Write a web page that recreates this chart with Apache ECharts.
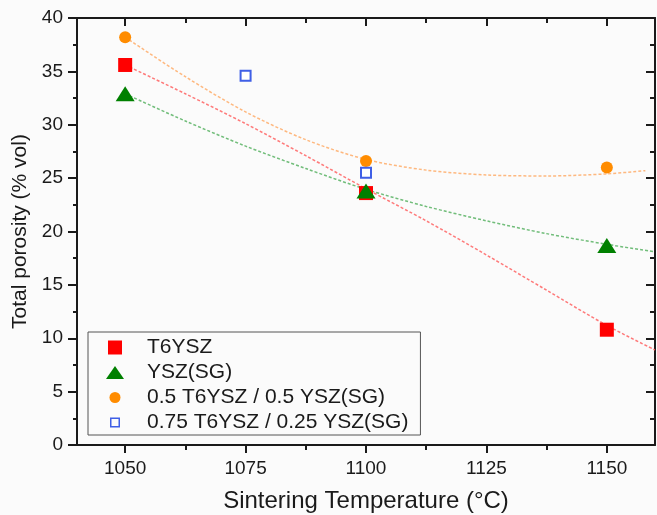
<!DOCTYPE html>
<html>
<head>
<meta charset="utf-8">
<script src="https://cdn.jsdelivr.net/npm/echarts@6/dist/echarts.min.js"></script>
<style>
html,body{margin:0;padding:0;background:#fbfbfb;}
#chart{width:657px;height:515px;}
</style>
</head>
<body>
<div id="chart"></div>
<script>
// ---- data ----
const xTickValues = [1050, 1075, 1100, 1125, 1150];
const xMinorTickValues = [1062.5, 1087.5, 1112.5, 1137.5];

const seriesNames = ['T6YSZ', 'YSZ(SG)', '0.5 T6YSZ / 0.5 YSZ(SG)', '0.75 T6YSZ / 0.25 YSZ(SG)'];

const t6yszX = [1050, 1100, 1150];
const t6yszY = [35.6, 23.6, 10.8];

const yszX = [1050, 1100, 1150];
const yszY = [32.9, 23.8, 18.7];

const mix50X = [1050, 1100, 1150];
const mix50Y = [38.2, 26.6, 26.0];

const mix75X = [1075, 1100];
const mix75Y = [34.6, 25.5];

// dotted trend lines
const fitX = [1050, 1062.5, 1075, 1087.5, 1100, 1112.5, 1125, 1137.5, 1150, 1160];
const t6yszFit = [35.6, 32.9, 30.1, 27.1, 24.0, 21.0, 17.8, 14.5, 11.2, 8.9];
const yszFit = [32.9, 30.35, 28.0, 25.9, 23.95, 22.35, 21.0, 19.8, 18.8, 18.1];
const mix50FitX = [1050, 1062.5, 1075, 1087.5, 1100, 1112.5, 1125, 1137.5, 1150, 1158];
const mix50Fit = [38.2, 34.5, 31.2, 28.6, 26.75, 25.75, 25.3, 25.2, 25.4, 25.7];

// ---- build ----
const zip = (xs, ys) => xs.map((x, i) => [x, ys[i]]);
const FONT = '"Liberation Sans", Arial, sans-serif';
const AX = '#1a1a1a';

// legend icons drawn inside a 54x14 box (corner points fix the box)
const BOX = 'M0 0 L0 0 M54 14 L54 14 ';
const legendIcons = [
  'path://' + BOX + 'M20 0 L34 0 L34 14 L20 14 Z',
  'path://' + BOX + 'M27 0.5 L36 13.5 L18 13.5 Z',
  'path://' + BOX + 'M21.5 7 A5.5 5.5 0 1 0 32.5 7 A5.5 5.5 0 1 0 21.5 7 Z',
  'path://' + BOX + 'M22 2 L32 2 L32 12 L22 12 Z M23.5 3.5 L23.5 10.5 L30.5 10.5 L30.5 3.5 Z'
];

const chart = echarts.init(document.getElementById('chart'), null, {renderer: 'canvas'});

const gridBox = {left: 77, right: 2, top: 18, bottom: 70, containLabel: false, outerBoundsMode: 'none'};
const baseX = {
  type: 'value', min: 1040, max: 1160,
  splitLine: {show: false},
  axisLine: {onZero: false, lineStyle: {color: AX, width: 2}},
};
const tickStyle = {color: AX, width: 2};

const option = {
  backgroundColor: '#fbfbfb',
  animation: false,
  textStyle: {fontFamily: FONT},
  grid: [Object.assign({}, gridBox), Object.assign({}, gridBox)],
  xAxis: [
    Object.assign({}, baseX, {
      gridIndex: 0, position: 'bottom',
      axisTick: {show: true, inside: false, length: 8, customValues: xTickValues, lineStyle: tickStyle},
      axisLabel: {show: true, customValues: xTickValues, fontSize: 19, color: AX, margin: 14, fontFamily: FONT,
                  formatter: v => String(v)},
      name: 'Sintering Temperature (°C)', nameLocation: 'middle', nameGap: 44,
      nameTextStyle: {fontSize: 24, color: AX, fontFamily: FONT}
    }),
    Object.assign({}, baseX, {
      gridIndex: 0, position: 'top',
      axisTick: {show: true, inside: true, length: 8, customValues: xTickValues, lineStyle: tickStyle},
      axisLabel: {show: false}
    }),
    Object.assign({}, baseX, {
      gridIndex: 1, position: 'bottom',
      axisLine: {show: false, onZero: false},
      axisTick: {show: true, inside: false, length: 5, customValues: xMinorTickValues, lineStyle: tickStyle},
      axisLabel: {show: false}
    }),
    Object.assign({}, baseX, {
      gridIndex: 1, position: 'top',
      axisLine: {show: false, onZero: false},
      axisTick: {show: true, inside: true, length: 5, customValues: xMinorTickValues, lineStyle: tickStyle},
      axisLabel: {show: false}
    })
  ],
  yAxis: [
    {
      gridIndex: 0, type: 'value', min: 0, max: 40, interval: 5, position: 'left',
      splitLine: {show: false},
      axisLine: {show: true, onZero: false, lineStyle: {color: AX, width: 2}},
      axisTick: {show: true, inside: false, length: 9, lineStyle: tickStyle},
      minorTick: {show: true, splitNumber: 2, length: 4, lineStyle: tickStyle},
      axisLabel: {fontSize: 19, color: AX, margin: 14, fontFamily: FONT},
      name: 'Total porosity (% vol)', nameLocation: 'middle', nameGap: 39,
      nameTextStyle: {fontSize: 21, color: AX, fontFamily: FONT}
    },
    {
      gridIndex: 0, type: 'value', min: 0, max: 40, interval: 5, position: 'right',
      splitLine: {show: false},
      axisLine: {show: true, onZero: false, lineStyle: {color: AX, width: 2}},
      axisTick: {show: true, inside: true, length: 9, lineStyle: tickStyle},
      minorTick: {show: true, splitNumber: 2, length: 5, lineStyle: tickStyle},
      axisLabel: {show: false}
    },
    {
      gridIndex: 1, type: 'value', min: 0, max: 40, show: false
    }
  ],
  legend: {
    orient: 'vertical', left: 88, top: 332,
    data: seriesNames.map((n, i) => ({name: n, icon: legendIcons[i], itemStyle: {borderWidth: 0}})),
    itemWidth: 54, itemHeight: 14, itemGap: 0,
    padding: [3, 12, 0, 0],
    borderColor: '#555', borderWidth: 1,
    backgroundColor: '#fbfbfb',
    textStyle: {fontSize: 21, color: AX, lineHeight: 25, fontFamily: FONT},
    selectedMode: false
  },
  series: [
    {type: 'line', name: 'fit-red', xAxisIndex: 0, yAxisIndex: 0, data: zip(fitX, t6yszFit), smooth: 0.3, showSymbol: false, symbol: 'none', z: 1,
     lineStyle: {color: '#ff5a5a', width: 1.5, type: [3, 2], opacity: 0.8}},
    {type: 'line', name: 'fit-green', xAxisIndex: 0, yAxisIndex: 0, data: zip(fitX, yszFit), smooth: 0.3, showSymbol: false, symbol: 'none', z: 1,
     lineStyle: {color: '#4fae5a', width: 1.5, type: [3, 2], opacity: 0.8}},
    {type: 'line', name: 'fit-orange', xAxisIndex: 0, yAxisIndex: 0, data: zip(mix50FitX, mix50Fit), smooth: 0.3, showSymbol: false, symbol: 'none', z: 1,
     lineStyle: {color: '#ffa860', width: 1.5, type: [3, 2], opacity: 0.8}},
    {type: 'scatter', name: seriesNames[0], xAxisIndex: 0, yAxisIndex: 0, data: zip(t6yszX, t6yszY), symbol: 'rect', symbolSize: 14, z: 3,
     itemStyle: {color: '#ff0000', opacity: 1}},
    {type: 'scatter', name: seriesNames[1], xAxisIndex: 0, yAxisIndex: 0, data: zip(yszX, yszY), symbol: 'triangle', symbolSize: [19, 15], z: 3,
     itemStyle: {color: '#008000', opacity: 1}},
    {type: 'scatter', name: seriesNames[2], xAxisIndex: 0, yAxisIndex: 0, data: zip(mix50X, mix50Y), symbol: 'circle', symbolSize: 12, z: 3,
     itemStyle: {color: '#ff8c00', opacity: 1}},
    {type: 'scatter', name: seriesNames[3], xAxisIndex: 0, yAxisIndex: 0, data: zip(mix75X, mix75Y), symbol: 'emptyRect', symbolSize: 10, z: 3,
     itemStyle: {color: '#3f5fe6', borderColor: '#3f5fe6', borderWidth: 1.5, opacity: 1}}
  ]
};
chart.setOption(option);
</script>
</body>
</html>
